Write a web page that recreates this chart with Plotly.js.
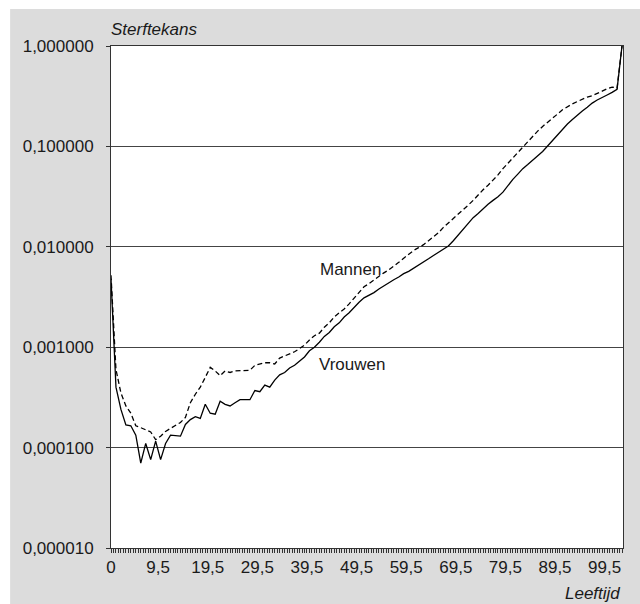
<!DOCTYPE html>
<html>
<head>
<meta charset="utf-8">
<script src="https://cdn.plot.ly/plotly-3.0.1.min.js"></script>
<style>html,body{margin:0;padding:0;background:#fff;}#chart{width:640px;height:604px;}</style>
</head>
<body>
<div id="chart"></div>
<script>
// Ages (Leeftijd)
const ages = [];
for (let a = 0; a <= 103; a++) ages.push(a);

// Sterftekans Mannen (dashed)
const mannen = [
  0.0052, 0.0006, 0.00035, 0.00026, 0.00022, 0.000165, 0.000158, 0.00015, 0.000143, 0.00012,
  0.00013, 0.000145, 0.000156, 0.000165, 0.000178, 0.0002, 0.00028, 0.00034, 0.0004, 0.0005,
  0.00063, 0.00058, 0.00052, 0.00058, 0.00056, 0.00058, 0.00058, 0.00059, 0.00059, 0.00066,
  0.00068, 0.0007, 0.0007, 0.00068, 0.00078, 0.00082, 0.00086, 0.0009, 0.00097, 0.00105,
  0.00118, 0.0013, 0.00138, 0.00158, 0.00175, 0.002, 0.0022, 0.0024, 0.0027, 0.0031,
  0.0035, 0.004, 0.0043, 0.0047, 0.0051, 0.0055, 0.0059, 0.0064, 0.007, 0.0077,
  0.0084, 0.0092, 0.0098, 0.0105, 0.0115, 0.0126, 0.0138, 0.0156, 0.0172, 0.019,
  0.021, 0.0232, 0.026, 0.029, 0.033, 0.037, 0.041, 0.046, 0.052, 0.06,
  0.068, 0.077, 0.087, 0.099, 0.113, 0.127, 0.142, 0.158, 0.175, 0.193,
  0.21, 0.232, 0.25, 0.265, 0.28, 0.295, 0.31, 0.32, 0.335, 0.355,
  0.375, 0.39, 0.38, 1.0
];

// Sterftekans Vrouwen (solid)
const vrouwen = [
  0.0048, 0.0004, 0.00024, 0.000168, 0.000165, 0.000133, 0.00007, 0.00011, 0.000076, 0.000116,
  0.000076, 0.00011, 0.000133, 0.000132, 0.00013, 0.00017, 0.00019, 0.000203, 0.000195, 0.00027,
  0.00022, 0.000215, 0.00029, 0.00027, 0.00026, 0.00028, 0.0003, 0.0003, 0.0003, 0.00037,
  0.00036, 0.00042, 0.0004, 0.00047, 0.00053, 0.00056, 0.00062, 0.00066, 0.00072, 0.0008,
  0.00092, 0.001, 0.00112, 0.00128, 0.0014, 0.0016, 0.00175, 0.002, 0.0022, 0.0025,
  0.0028, 0.0031, 0.0033, 0.0035, 0.0038, 0.0041, 0.0044, 0.0047, 0.005, 0.0054,
  0.0057, 0.0061, 0.0066, 0.0071, 0.0076, 0.0082, 0.0088, 0.0094, 0.0102, 0.0115,
  0.0132, 0.015, 0.0172, 0.0195, 0.0215, 0.024, 0.0265, 0.029, 0.0315, 0.035,
  0.041, 0.047, 0.053, 0.06, 0.066, 0.073, 0.08, 0.089, 0.101, 0.115,
  0.132, 0.15, 0.167, 0.185, 0.205, 0.225, 0.245, 0.27, 0.29, 0.305,
  0.325, 0.345, 0.37, 1.0
];

// Tick labels
const xTickVals = [0, 9.5, 19.5, 29.5, 39.5, 49.5, 59.5, 69.5, 79.5, 89.5, 99.5];
const xTickText = ['0', '9,5', '19,5', '29,5', '39,5', '49,5', '59,5', '69,5', '79,5', '89,5', '99,5'];
const yTickVals = [0.00001, 0.0001, 0.001, 0.01, 0.1, 1];
const yTickText = ['0,000010', '0,000100', '0,001000', '0,010000', '0,100000', '1,000000'];

const FONT = 'Liberation Sans, Arial, Helvetica, sans-serif';
const INK = '#1a1a1a';

const traces = [
  {
    x: ages, y: mannen, type: 'scatter', mode: 'lines', name: 'Mannen',
    line: {color: '#000', width: 1.3, dash: '5px,3px'}
  },
  {
    x: ages, y: vrouwen, type: 'scatter', mode: 'lines', name: 'Vrouwen',
    line: {color: '#000', width: 1.3}
  }
];

const layout = {
  width: 640, height: 604,
  margin: {l: 111, r: 17, t: 46, b: 56},
  paper_bgcolor: '#ffffff',
  plot_bgcolor: '#ffffff',
  showlegend: false,
  font: {family: FONT, size: 17, color: INK},
  xaxis: {
    range: [0, 103.2],
    tickmode: 'array', tickvals: xTickVals, ticktext: xTickText,
    ticks: 'outside', ticklen: 4, tickcolor: '#333', tickwidth: 1,
    minor: {tick0: 0, dtick: 0.5, ticks: 'outside', ticklen: 4, tickcolor: '#333', tickwidth: 1, showgrid: false},
    showgrid: false, zeroline: false,
    showline: true, linecolor: '#333', linewidth: 1, mirror: true,
    tickfont: {family: FONT, size: 17, color: INK}
  },
  yaxis: {
    type: 'log', range: [-5, 0],
    tickmode: 'array', tickvals: yTickVals, ticktext: yTickText,
    ticks: 'outside', ticklen: 4, tickcolor: '#333', tickwidth: 1,
    ticklabelstandoff: 9,
    showgrid: true, gridcolor: '#444', gridwidth: 1,
    zeroline: false,
    showline: true, linecolor: '#333', linewidth: 1, mirror: true,
    tickfont: {family: FONT, size: 17, color: INK}
  },
  shapes: [
    {type: 'rect', xref: 'paper', yref: 'paper', x0: -0.197, x1: 1.04, y0: -0.12, y1: 1.0737,
     fillcolor: '#dcdcdc', line: {width: 0}, layer: 'below'},
    {type: 'rect', xref: 'paper', yref: 'paper', x0: 0, x1: 1, y0: 0, y1: 1,
     fillcolor: '#ffffff', line: {width: 0}, layer: 'below'}
  ],
  annotations: [
    {text: '<i>Sterftekans</i>', xref: 'paper', yref: 'paper', x: -0.004, y: 1.032,
     xanchor: 'left', yanchor: 'middle', showarrow: false, font: {family: FONT, size: 17, color: INK}},
    {text: '<i>Leeftijd</i>', xref: 'paper', yref: 'paper', x: 0.998, y: -0.0916,
     xanchor: 'right', yanchor: 'middle', showarrow: false, font: {family: FONT, size: 17, color: INK}},
    {text: 'Mannen', xref: 'x', yref: 'y', x: 41.8, y: -2.231,
     xanchor: 'left', yanchor: 'middle', showarrow: false, font: {family: FONT, size: 17, color: INK}},
    {text: 'Vrouwen', xref: 'x', yref: 'y', x: 41.5, y: -3.177,
     xanchor: 'left', yanchor: 'middle', showarrow: false, font: {family: FONT, size: 17, color: INK}}
  ]
};

Plotly.newPlot('chart', traces, layout, {displayModeBar: false, staticPlot: true});
</script>
</body>
</html>
